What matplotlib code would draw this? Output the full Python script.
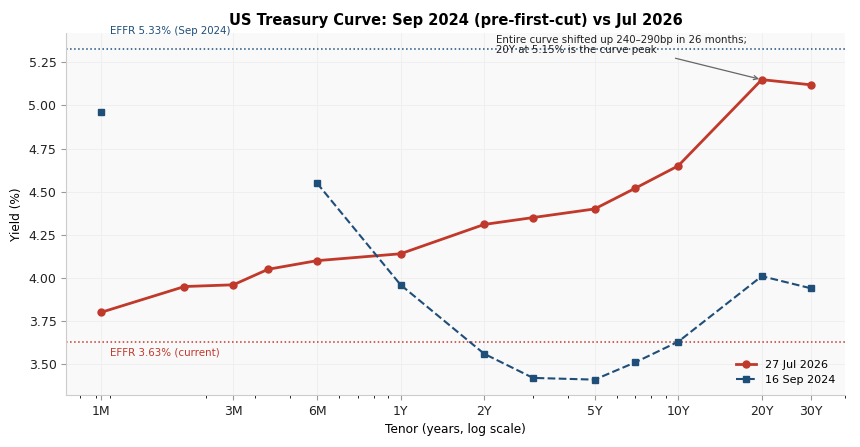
import matplotlib
matplotlib.use("Agg")
import matplotlib.pyplot as plt
import numpy as np

# tenors in years
tenors = [1/12, 2/12, 3/12, 4/12, 6/12, 1, 2, 3, 5, 7, 10, 20, 30]
jul_2026 = [3.80, 3.95, 3.96, 4.05, 4.10, 4.14, 4.31, 4.35, 4.40, 4.52, 4.65, 5.15, 5.12]
sep_2024 = [4.96, np.nan, np.nan, np.nan, 4.55, 3.96, 3.56, 3.42, 3.41, 3.51, 3.63, 4.01, 3.94]

tick_pos = [1/12, 3/12, 6/12, 1, 2, 5, 10, 20, 30]
tick_lbl = ['1M', '3M', '6M', '1Y', '2Y', '5Y', '10Y', '20Y', '30Y']

effr_old = 5.33
effr_now = 3.63

red = '#c0392b'
blue = '#1f4e79'

fig, ax = plt.subplots(figsize=(8.6, 4.47), dpi=100)
ax.set_facecolor('#f9f9f9')

ax.plot(tenors, jul_2026, color=red, lw=2, marker='o', ms=5, label='27 Jul 2026', zorder=3)
ax.plot(tenors, sep_2024, color=blue, lw=1.5, ls='--', marker='s', ms=4.5, label='16 Sep 2024', zorder=3)

ax.axhline(effr_old, color=blue, ls=':', lw=1.1)
ax.axhline(effr_now, color=red, ls=':', lw=1.1)
ax.text(0.09, effr_old + 0.075, 'EFFR 5.33% (Sep 2024)', color=blue, fontsize=7.4, va='bottom')
ax.text(0.09, effr_now - 0.035, 'EFFR 3.63% (current)', color=red, fontsize=7.4, va='top')

ax.annotate('Entire curve shifted up 240\u2013290bp in 26 months;\n20Y at 5.15% is the curve peak',
            xy=(20, 5.15), xytext=(2.2, 5.41), fontsize=7.4, va='top', color='#222222',
            linespacing=1.0,
            arrowprops=dict(arrowstyle='->', color='#666666', lw=0.9))

ax.set_xscale('log')
ax.set_xlim(0.0625, 40)
ax.set_ylim(3.32, 5.42)
ax.set_xticks(tick_pos)
ax.set_xticklabels(tick_lbl)
ax.set_yticks([3.50, 3.75, 4.00, 4.25, 4.50, 4.75, 5.00, 5.25])
ax.tick_params(labelsize=9, colors='#222222')
ax.tick_params(axis='both', color='#999999')

ax.grid(True, color='#eeeeee', lw=0.6)
for s in ['top', 'right']:
    ax.spines[s].set_visible(False)
for s in ['left', 'bottom']:
    ax.spines[s].set_color('#cccccc')

ax.set_title('US Treasury Curve: Sep 2024 (pre-first-cut) vs Jul 2026', fontsize=10.5, fontweight='bold')
ax.set_xlabel('Tenor (years, log scale)', fontsize=8.7)
ax.set_ylabel('Yield (%)', fontsize=8.7)
ax.legend(loc='lower right', fontsize=8, frameon=False, handlelength=1.8)

plt.subplots_adjust(left=0.077, right=0.983, top=0.926, bottom=0.116)
plt.savefig('out.png', dpi=100)
